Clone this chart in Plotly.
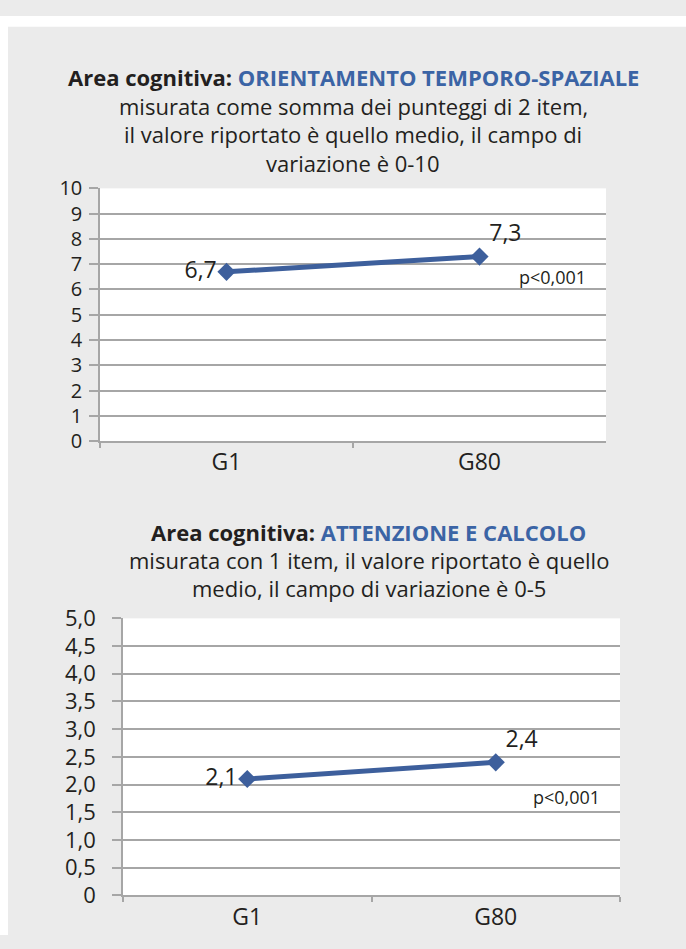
import plotly.graph_objects as go

# Data
categories = ["G1", "G80"]
orient_values = [6.7, 7.3]
orient_labels = ["6,7", "7,3"]
attenz_values = [2.1, 2.4]
attenz_labels = ["2,1", "2,4"]

orient_ticks = list(range(0, 11))
orient_ticktext = [str(v) for v in orient_ticks]
attenz_ticks = [0, 0.5, 1.0, 1.5, 2.0, 2.5, 3.0, 3.5, 4.0, 4.5, 5.0]
attenz_ticktext = ["0", "0,5", "1,0", "1,5", "2,0", "2,5", "3,0", "3,5", "4,0", "4,5", "5,0"]

p_text = "p&lt;0,001"

W, H = 686, 949
FONT = "Open Sans"
TXT = "#231f20"
BLUE = "#3b64a5"
LINE = "#3d5f9c"
GRID = "#a6a6a6"
BG = "#ebebeb"


def px(x):
    return x / W


def py(y):
    return 1 - y / H


fig = go.Figure()

for vals, labels, xa, ya in [
    (orient_values, orient_labels, "x", "y"),
    (attenz_values, attenz_labels, "x2", "y2"),
]:
    fig.add_trace(go.Scatter(
        x=categories, y=vals, text=labels,
        mode="lines+markers+text", textposition=["middle left", "top right"],
        textfont=dict(family=FONT, size=23, color=TXT),
        line=dict(color=LINE, width=5),
        marker=dict(symbol="diamond", size=14, color=LINE),
        xaxis=xa, yaxis=ya, showlegend=False, cliponaxis=False,
    ))

xcommon = dict(
    type="category", range=[-0.5, 1.5], showgrid=False, zeroline=False,
    showline=True, linecolor=GRID, linewidth=1.5,
    ticks="outside", tickson="boundaries", ticklen=5, tickcolor=GRID, tickwidth=1.5,
    tickfont=dict(family=FONT, size=23, color=TXT),
)
ycommon = dict(
    showgrid=True, gridcolor=GRID, gridwidth=1.5, zeroline=False,
    showline=True, linecolor=GRID, linewidth=1.5,
    ticks="outside", ticklen=9, tickcolor=GRID, tickwidth=1.5,
)

fig.update_layout(
    width=W, height=H,
    margin=dict(l=0, r=0, t=0, b=0),
    paper_bgcolor=BG, plot_bgcolor="white",
    xaxis=dict(domain=[px(100), px(606)], anchor="y", **xcommon),
    yaxis=dict(domain=[py(439), py(178)], anchor="x", range=[0, 10],
               tickvals=orient_ticks, ticktext=orient_ticktext,
               tickfont=dict(family=FONT, size=20, color=TXT),
               ticklabelstandoff=3, **ycommon),
    xaxis2=dict(domain=[px(123), px(620)], anchor="y2", **xcommon),
    yaxis2=dict(domain=[py(908), py(622)], anchor="x2", range=[0, 5],
                tickvals=attenz_ticks, ticktext=attenz_ticktext,
                tickfont=dict(family=FONT, size=22, color=TXT),
                ticklabelstandoff=12, **ycommon),
)

# white page margins around the grey panel
fig.add_shape(type="rect", xref="paper", yref="paper", x0=0, x1=px(8), y0=0, y1=1,
              fillcolor="white", line_width=0, layer="below")
fig.add_shape(type="rect", xref="paper", yref="paper", x0=0, x1=1, y0=py(11), y1=1,
              fillcolor="white", line_width=0, layer="below")


def text_line(txt, x, y, size=22, xanchor="center"):
    fig.add_annotation(text=txt, x=px(x), y=py(y), xref="paper", yref="paper",
                       xanchor=xanchor, yanchor="middle", showarrow=False,
                       font=dict(family=FONT, size=size, color=TXT))


# Titles
title1 = [
    f"<b>Area cognitiva: <span style='color:{BLUE}'>ORIENTAMENTO TEMPORO-SPAZIALE</span></b>",
    "misurata come somma dei punteggi di 2 item,",
    "il valore riportato è quello medio, il campo di",
    "variazione è 0-10",
]
for i, t in enumerate(title1):
    text_line(t, 353, 63 + i * 29.5)

title2 = [
    f"<b>Area cognitiva: <span style='color:{BLUE}'>ATTENZIONE E CALCOLO</span></b>",
    "misurata con 1 item, il valore riportato è quello",
    "medio, il campo di variazione è 0-5",
]
for i, t in enumerate(title2):
    text_line(t, 369, 533 + i * 29)

# significance notes
text_line(p_text, 588, 270, size=18, xanchor="right")
text_line(p_text, 602, 806, size=18, xanchor="right")

fig.write_html("out.html")
